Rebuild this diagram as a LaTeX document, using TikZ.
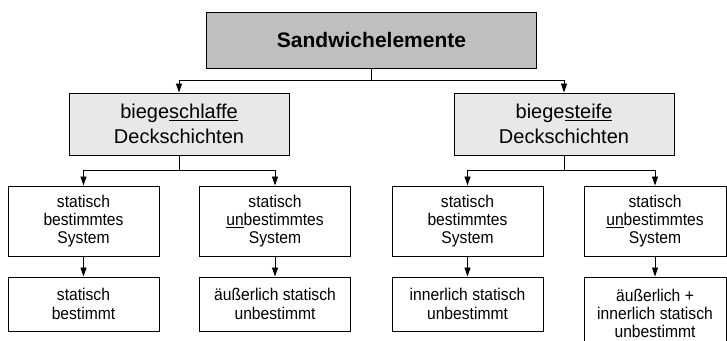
\documentclass[tikz,border=0pt]{standalone}
\usepackage{fontspec}
\setmainfont{Liberation Sans}
\newfontfamily\schmal{Liberation Sans}[FakeStretch=0.92]
\usetikzlibrary{positioning,arrows.meta}
\newcommand\unter[1]{\setbox0\hbox{#1}\rlap{\rule[-2.6pt]{\wd0}{1.1pt}}#1}

\begin{document}
\begin{tikzpicture}[x=1pt,y=-1pt]
\useasboundingbox (0,0) rectangle (727,340);
\tikzset{Kasten/.style={draw,line width=1pt,inner sep=0pt,align=center},
  Haupt/.style={Kasten,fill=gray!50,minimum width=330pt,minimum height=56pt,font=\fontsize{21}{25}\selectfont\bfseries},
  Deck/.style={Kasten,fill=gray!18,minimum width=220pt,minimum height=62pt,font=\fontsize{20}{25.5}\selectfont},
  Fall/.style={Kasten,minimum width=151pt,minimum height=70pt,font=\schmal\fontsize{17}{18.3}\selectfont},
  Ende/.style={Fall,minimum height=54pt},
  Pfeil/.style={-{Triangle[length=9pt,width=6pt]},line width=0.9pt}}
\node[Haupt] (S) at (371.5,40) {Sandwichelemente};
\node[Deck] (L) at (179,124) {biege\unter{schlaffe}\\Deckschichten};
\node[Deck] (R) at (564,124) {biege\unter{steife}\\Deckschichten};
\node[Fall] (L1) at (83.5,221) {statisch\\bestimmtes\\System};
\node[Fall] (L2) at (275,221) {statisch\\\unter{un}bestimmtes\\System};
\node[Fall] (R1) at (467.5,221) {statisch\\bestimmtes\\System};
\node[Fall,minimum width=142pt] (R2) at (655,221) {statisch\\\unter{un}bestimmtes\\System};
\node[Ende,below=20pt of L1] (L3) {statisch\\bestimmt};
\node[Ende,below=20pt of L2] (L4) {äußerlich statisch\\unbestimmt};
\node[Ende,below=20pt of R1] (R3) {innerlich statisch\\unbestimmt};
\node[Ende,minimum width=142pt,minimum height=73pt,below=20pt of R2] (R4) {äußerlich +\\innerlich statisch\\unbestimmt};
% Verzweigungen
\coordinate (k) at (371.5,80);
\coordinate (kL) at (179,170);
\coordinate (kR) at (564,170);
\draw[line width=0.9pt] (S) -- (k);
\draw[Pfeil] (k) -| (L);
\draw[Pfeil] (k) -| (R);
\draw[line width=0.9pt] (L) -- (kL);
\draw[Pfeil] (kL) -| (L1);
\draw[Pfeil] (kL) -| (L2);
\draw[line width=0.9pt] (R) -- (kR);
\draw[Pfeil] (kR) -| (R1);
\draw[Pfeil] (kR) -| (R2);
\draw[Pfeil] (L1) -- (L3);
\draw[Pfeil] (L2) -- (L4);
\draw[Pfeil] (R1) -- (R3);
\draw[Pfeil] (R2) -- (R4);
\end{tikzpicture}
\end{document}
